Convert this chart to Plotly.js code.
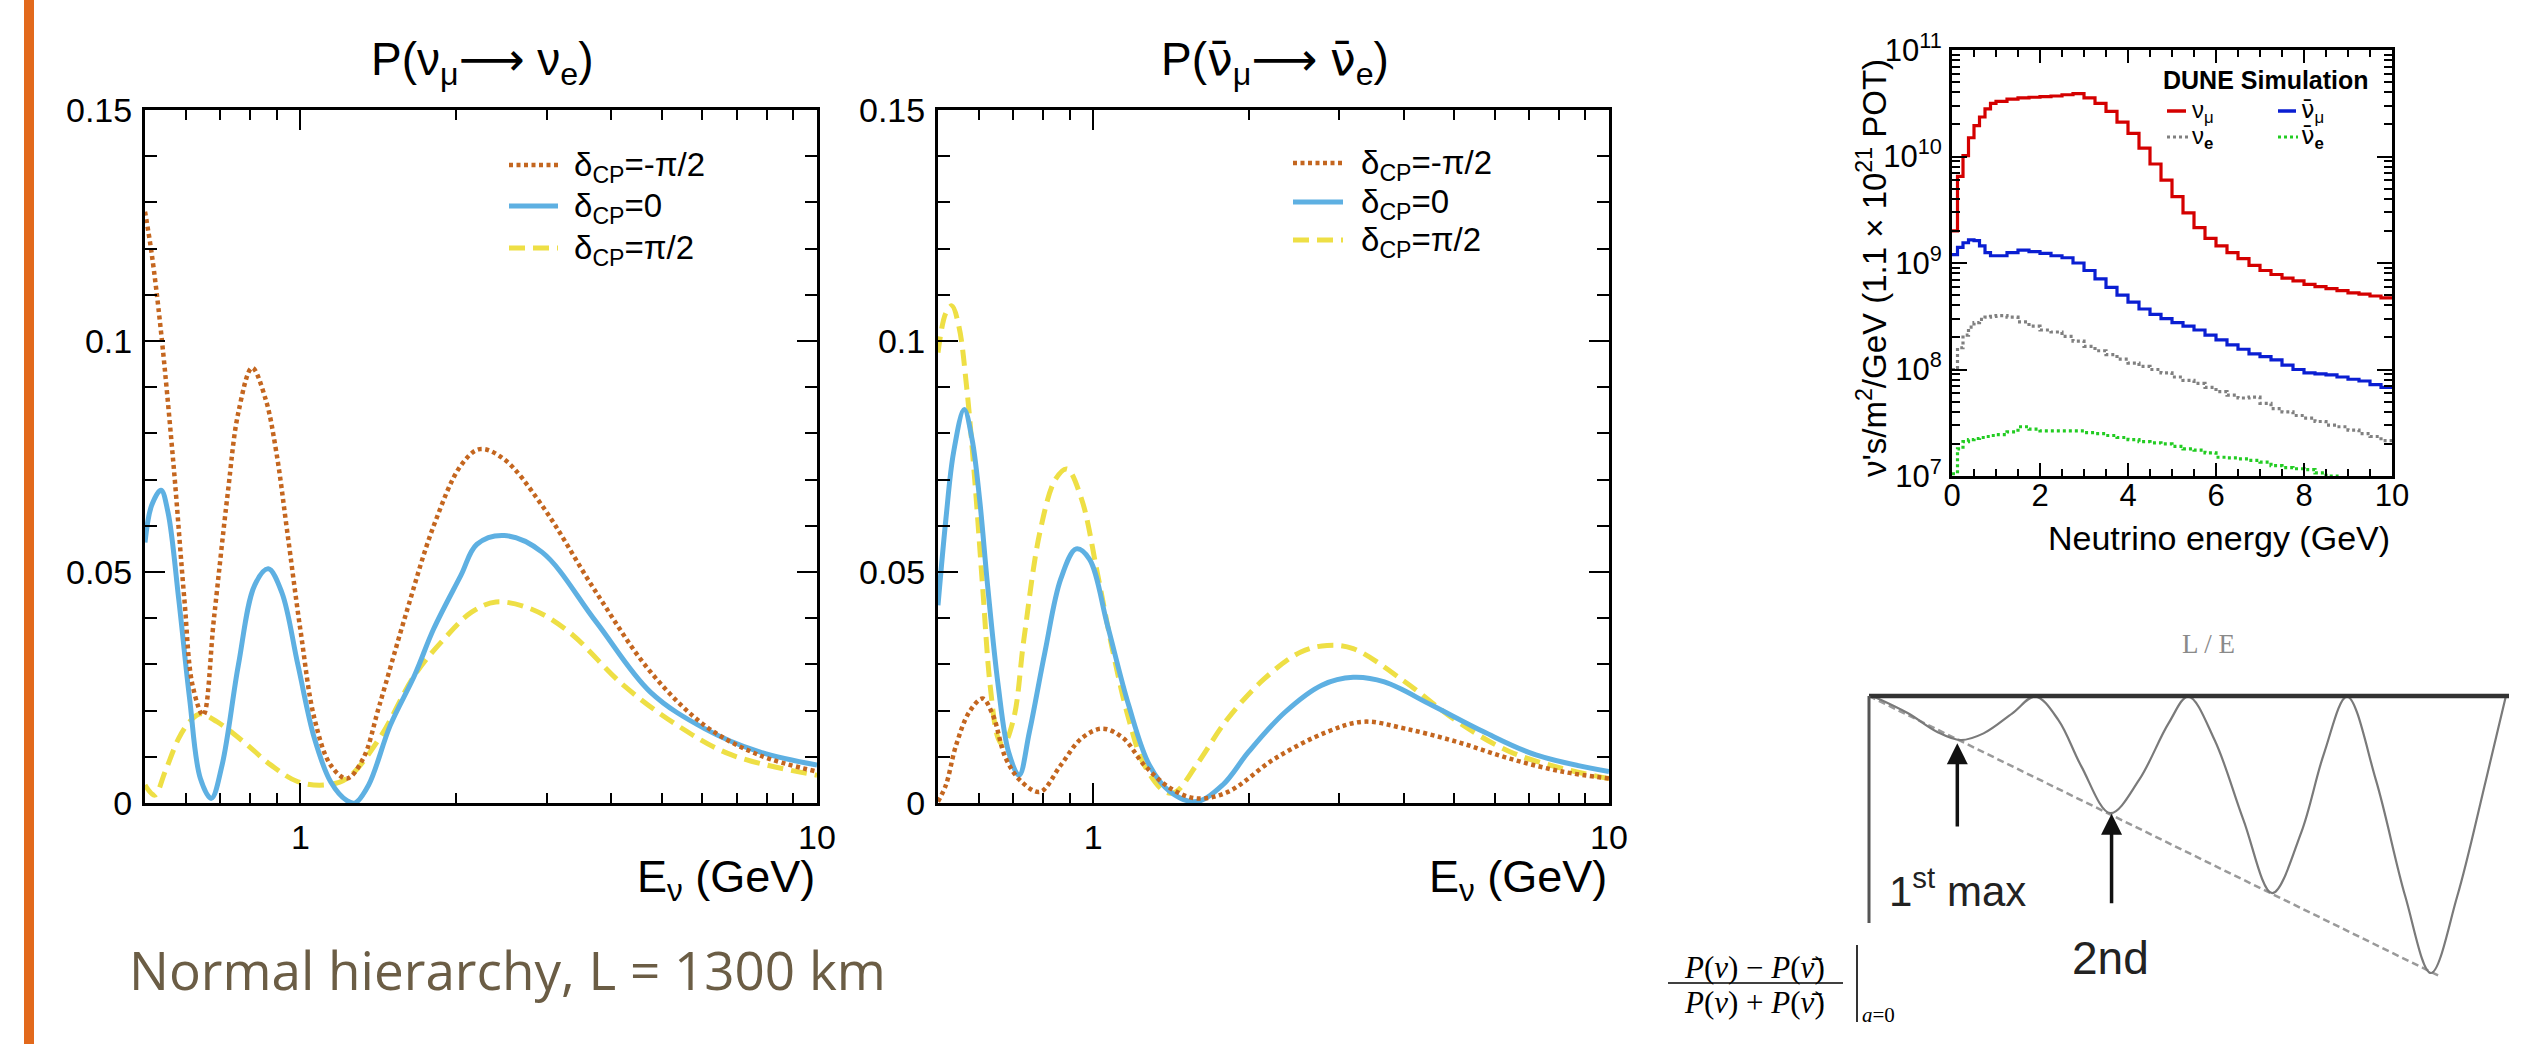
<!DOCTYPE html>
<html><head><meta charset="utf-8">
<script src="https://cdn.plot.ly/plotly-3.0.1.min.js"></script>
<style>html,body{margin:0;padding:0;background:#fff;} #chart{width:2525px;height:1044px;}</style>
</head><body><div id="chart"></div>
<script>
// ---------- P(nu_mu -> nu_e), normal hierarchy, L = 1300 km ----------
const nuE_minus = [0.50,0.515,0.537,0.568,0.596,0.618,0.648,0.680,0.723,0.758,0.806,0.856,0.898,0.943,1.001,1.064,1.144,1.230,1.322,1.422,1.604,1.811,2.043,2.223,2.479,2.935,3.736,4.759,6.058,7.716,10];
const nuP_minus = [0.128,0.119,0.102,0.073,0.044,0.0255,0.019,0.040,0.067,0.0845,0.0942,0.0874,0.0759,0.0586,0.037,0.0183,0.0082,0.0053,0.0096,0.0212,0.0413,0.060,0.073,0.0766,0.0744,0.0644,0.0456,0.0284,0.0168,0.0104,0.0068];
const nuE_zero = [0.50,0.515,0.537,0.554,0.581,0.610,0.640,0.672,0.705,0.758,0.815,0.866,0.920,0.989,1.064,1.144,1.230,1.275,1.355,1.492,1.664,1.811,2.043,2.196,2.479,2.935,3.736,4.759,6.058,7.716,10];
const nuP_zero = [0.0564,0.0644,0.0677,0.0629,0.0442,0.0226,0.0053,0.0010,0.0082,0.0298,0.0471,0.0507,0.0456,0.0298,0.0140,0.0046,0.0005,0.0,0.0039,0.0168,0.0277,0.0377,0.0492,0.056,0.0579,0.0543,0.0392,0.0240,0.0161,0.0111,0.0082];
const nuE_plus = [0.50,0.522,0.547,0.581,0.610,0.640,0.689,0.777,0.877,0.989,1.117,1.230,1.422,1.664,1.900,2.144,2.390,2.797,3.312,4.218,5.369,6.836,10];
const nuP_plus = [0.0039,0.0017,0.0068,0.0140,0.0176,0.0193,0.0176,0.0132,0.0082,0.0046,0.0039,0.0053,0.0140,0.0277,0.0356,0.0413,0.0435,0.0420,0.0370,0.0255,0.0168,0.0104,0.0060];

// ---------- P(anti-nu_mu -> anti-nu_e) ----------
const anuE_minus = [0.5,0.518,0.542,0.575,0.610,0.639,0.677,0.726,0.788,0.865,0.949,1.042,1.144,1.256,1.411,1.585,1.824,2.249,2.840,3.344,4.026,5.086,6.424,8.107,10];
const anuP_minus = [0.0003,0.0039,0.0125,0.0197,0.0226,0.0190,0.0096,0.0046,0.0024,0.0082,0.0140,0.0161,0.0140,0.0082,0.0032,0.0010,0.0024,0.0096,0.0154,0.0176,0.0161,0.0132,0.0096,0.0068,0.0053];
const anuE_zero = [0.5,0.518,0.536,0.562,0.582,0.602,0.624,0.654,0.685,0.718,0.752,0.806,0.865,0.927,0.983,1.066,1.171,1.285,1.411,1.585,1.782,2.002,2.356,2.774,3.191,3.669,4.527,5.715,7.217,10];
const anuP_zero = [0.0428,0.0615,0.0759,0.0852,0.0788,0.0658,0.0470,0.0255,0.0111,0.0060,0.0154,0.0327,0.0485,0.0550,0.0528,0.0384,0.0212,0.0082,0.0024,0.0003,0.0039,0.0111,0.0197,0.0255,0.0272,0.0262,0.0212,0.0154,0.0104,0.0068];
const anuE_plus = [0.5,0.518,0.532,0.549,0.568,0.589,0.610,0.631,0.654,0.669,0.701,0.734,0.788,0.845,0.889,0.949,1.018,1.092,1.171,1.256,1.379,1.444,1.585,1.824,2.147,2.527,2.840,3.191,4.026,5.086,6.424,8.107,10];
const anuP_plus = [0.0975,0.1061,0.1076,0.1031,0.0902,0.0701,0.0470,0.0255,0.0140,0.0125,0.0183,0.0356,0.0586,0.0701,0.0723,0.0658,0.0499,0.0327,0.0183,0.0082,0.0024,0.0024,0.0082,0.0183,0.0269,0.0327,0.0341,0.0334,0.0262,0.0176,0.0111,0.0075,0.0053];

const probLegend = ['δ<sub>CP</sub>=-π/2','δ<sub>CP</sub>=0','δ<sub>CP</sub>=π/2'];
const probXTicks = [1,10];
const probXTickText = ['1','10'];
const probYTicks = [0,0.05,0.1,0.15];
const probYTickText = ['0','0.05','0.1','0.15'];

// ---------- DUNE flux (bin low edges, GeV) ----------
const fluxEdges = [0,0.125,0.25,0.375,0.5,0.625,0.75,0.875,1,1.25,1.5,1.75,2,2.25,2.5,2.75,3,3.25,3.5,3.75,4,4.25,4.5,4.75,5,5.25,5.5,5.75,6,6.25,6.5,6.75,7,7.25,7.5,7.75,8,8.25,8.5,8.75,9,9.25,9.5,9.75];
const fluxNumu = [2.0e9,6.5e9,1.02e10,1.5e10,1.95e10,2.35e10,2.8e10,3.15e10,3.3e10,3.45e10,3.55e10,3.6e10,3.65e10,3.7e10,3.8e10,3.9e10,3.55e10,3.15e10,2.65e10,2.1e10,1.65e10,1.2e10,8.5e9,6.0e9,4.2e9,2.95e9,2.15e9,1.7e9,1.45e9,1.25e9,1.1e9,9.5e8,8.5e8,7.8e8,7.2e8,6.8e8,6.3e8,6.0e8,5.75e8,5.5e8,5.25e8,5.1e8,4.9e8,4.7e8];
const fluxNumubar = [1.2e9,1.4e9,1.55e9,1.65e9,1.62e9,1.45e9,1.25e9,1.17e9,1.17e9,1.25e9,1.32e9,1.28e9,1.23e9,1.17e9,1.12e9,1.0e9,8.5e8,7.1e8,5.9e8,5.0e8,4.3e8,3.7e8,3.3e8,3.0e8,2.75e8,2.55e8,2.35e8,2.1e8,1.9e8,1.7e8,1.55e8,1.4e8,1.32e8,1.23e8,1.1e8,1.0e8,9.3e7,9.1e7,8.9e7,8.5e7,8.1e7,7.8e7,7.2e7,6.8e7];
const fluxNue = [1.0e8,1.6e8,2.1e8,2.5e8,2.75e8,2.95e8,3.1e8,3.15e8,3.2e8,3.1e8,2.8e8,2.55e8,2.35e8,2.25e8,2.05e8,1.85e8,1.65e8,1.5e8,1.38e8,1.25e8,1.15e8,1.07e8,1.0e8,9.3e7,8.5e7,7.9e7,7.4e7,6.8e7,6.2e7,5.75e7,5.4e7,5.5e7,4.8e7,4.3e7,4.0e7,3.7e7,3.5e7,3.25e7,3.0e7,2.9e7,2.7e7,2.5e7,2.35e7,2.15e7];
const fluxNuebar = [1.05e7,1.8e7,2.1e7,2.2e7,2.25e7,2.3e7,2.35e7,2.4e7,2.45e7,2.6e7,2.9e7,2.75e7,2.65e7,2.65e7,2.65e7,2.65e7,2.55e7,2.5e7,2.4e7,2.3e7,2.2e7,2.1e7,2.05e7,2.0e7,1.9e7,1.8e7,1.75e7,1.65e7,1.5e7,1.48e7,1.45e7,1.4e7,1.35e7,1.25e7,1.2e7,1.17e7,1.15e7,1.07e7,1.0e7,9.3e6,9.0e6,8.5e6,8.0e6,7.6e6];
const fluxEmax = 10;
const fluxXTicks = [0,2,4,6,8,10];
const fluxYTicks = [1e7,1e8,1e9,1e10,1e11];
const fluxYTickText = ['10<sup>7</sup>','10<sup>8</sup>','10<sup>9</sup>','10<sup>10</sup>','10<sup>11</sup>'];

// ---------- L/E sketch (arbitrary units, depth drawn downward) ----------
const sketchU = [0.007,0.061,0.106,0.143,0.179,0.224,0.260,0.296,0.332,0.377,0.422,0.468,0.499,0.540,0.585,0.630,0.675,0.711,0.747,0.792,0.838,0.878,0.919,0.964,0.995];
const sketchV = [-0.002,-0.0625,-0.129,-0.159,-0.135,-0.0625,-0.002,-0.087,-0.255,-0.423,-0.303,-0.099,-0.002,-0.159,-0.447,-0.712,-0.495,-0.207,-0.002,-0.303,-0.724,-1.0,-0.724,-0.303,-0.002];
const diagU = [0, 0.892];
const diagV = [0, -1.012];

// ---------- layout helpers ----------
const W = 2525, H = 1044;
const px = x => x / W;
const py = y => 1 - y / H;
const dx = (a, b) => [a / W, b / W];
const dy = (top, bot) => [1 - bot / H, 1 - top / H];

const C_OR = '#C4661F', C_BL = '#5EB0E2', C_YE = '#EEDF45';
const DOT = '4px,3.5px', DASH = '16px,8px';
const SANS = 'Liberation Sans, Arial, sans-serif';
const NARROW = 'Liberation Sans Narrow, Arial Narrow, Liberation Sans, Arial, sans-serif';
const SERIF = 'Liberation Serif, Times New Roman, serif';
const NUBAR = '<span style="font-family:DejaVu Sans">ν̄</span>';
const ARROW = '<span style="font-family:DejaVu Sans">⟶</span>';

function line(x, y, xa, ya, color, width, dash, shape) {
  return {type: 'scatter', mode: 'lines', x: x, y: y, xaxis: xa, yaxis: ya,
    line: {color: color, width: width, dash: dash || 'solid', shape: shape || 'spline', smoothing: 1},
    hoverinfo: 'skip', showlegend: false};
}
function stepTrace(vals, color, dash) {
  return {type: 'scatter', mode: 'lines', x: fluxEdges.concat([fluxEmax]), y: vals.concat([vals[vals.length - 1]]),
    xaxis: 'x3', yaxis: 'y3', line: {color: color, width: 3.2, dash: dash || 'solid', shape: 'hv'},
    hoverinfo: 'skip', showlegend: false};
}

const traces = [
  line(nuE_plus, nuP_plus, 'x', 'y', C_YE, 5, DASH),
  line(nuE_zero, nuP_zero, 'x', 'y', C_BL, 5),
  line(nuE_minus, nuP_minus, 'x', 'y', C_OR, 4.5, DOT),
  line(anuE_plus, anuP_plus, 'x2', 'y2', C_YE, 5, DASH),
  line(anuE_zero, anuP_zero, 'x2', 'y2', C_BL, 5),
  line(anuE_minus, anuP_minus, 'x2', 'y2', C_OR, 4.5, DOT),
  stepTrace(fluxNuebar, '#22CC22', '3px,3px'),
  stepTrace(fluxNue, '#808080', '3px,3px'),
  stepTrace(fluxNumubar, '#0A1ED2'),
  stepTrace(fluxNumu, '#D40000'),
  line(diagU, diagV, 'x4', 'y4', '#9a9a9a', 2.5, '7px,4px', 'linear'),
  line(sketchU, sketchV, 'x4', 'y4', '#7a7a7a', 2.2, 'solid', 'spline')
];

function probX(domain, anchor) {
  return {domain: domain, anchor: anchor, type: 'log', range: [Math.log10(0.5), 1],
    tickmode: 'array', tickvals: probXTicks, ticktext: probXTickText,
    ticks: 'inside', ticklen: 20, tickwidth: 2, tickcolor: '#000',
    minor: {tickmode: 'array', tickvals: [0.6,0.7,0.8,0.9,2,3,4,5,6,7,8,9], ticks: 'inside', ticklen: 10, tickwidth: 2, tickcolor: '#000'},
    showline: true, linecolor: '#000', linewidth: 3, mirror: 'ticks',
    showgrid: false, zeroline: false, tickfont: {family: SANS, size: 34, color: '#000'},
    ticklabelstandoff: 2, fixedrange: true};
}
function probY(domain, anchor) {
  return {domain: domain, anchor: anchor, range: [0, 0.15],
    tickmode: 'array', tickvals: probYTicks, ticktext: probYTickText,
    ticks: 'inside', ticklen: 20, tickwidth: 2, tickcolor: '#000',
    minor: {tickmode: 'linear', tick0: 0, dtick: 0.01, ticks: 'inside', ticklen: 12, tickwidth: 2, tickcolor: '#000'},
    showline: true, linecolor: '#000', linewidth: 3, mirror: 'ticks',
    showgrid: false, zeroline: false, tickfont: {family: SANS, size: 34, color: '#000'},
    ticklabelstandoff: 3, fixedrange: true};
}
const fluxMinor = [];
for (let e = 7; e < 11; e++) for (let m = 2; m <= 9; m++) fluxMinor.push(m * Math.pow(10, e));

const legFont = {family: SANS, size: 33};
const layout = {
  width: W, height: H, margin: {l: 0, r: 0, t: 0, b: 0},
  paper_bgcolor: '#fff', plot_bgcolor: 'rgba(0,0,0,0)', showlegend: false,
  font: {family: SANS, color: '#000'},
  xaxis: probX(dx(145, 817), 'y'),
  yaxis: probY(dy(110, 803), 'x'),
  xaxis2: probX(dx(938, 1609), 'y2'),
  yaxis2: probY(dy(110, 803), 'x2'),
  xaxis3: {domain: dx(1952, 2392), anchor: 'y3', range: [0, 10], tickmode: 'array', tickvals: fluxXTicks,
    ticks: 'inside', ticklen: 13, tickwidth: 2, tickcolor: '#000',
    minor: {tickmode: 'linear', tick0: 0, dtick: 0.5, ticks: 'inside', ticklen: 7, tickwidth: 2, tickcolor: '#000'},
    showline: true, linecolor: '#000', linewidth: 3, mirror: 'ticks', showgrid: false, zeroline: false,
    tickfont: {family: NARROW, size: 31, color: '#000'}, ticklabelstandoff: -10, fixedrange: true},
  yaxis3: {domain: dy(50, 476), anchor: 'x3', type: 'log', range: [7, 11], tickmode: 'array',
    tickvals: fluxYTicks, ticktext: fluxYTickText,
    ticks: 'inside', ticklen: 15, tickwidth: 2, tickcolor: '#000',
    minor: {tickmode: 'array', tickvals: fluxMinor, ticks: 'inside', ticklen: 8, tickwidth: 2, tickcolor: '#000'},
    showline: true, linecolor: '#000', linewidth: 3, mirror: 'ticks', showgrid: false, zeroline: false,
    tickfont: {family: NARROW, size: 31, color: '#000'}, ticklabelstandoff: 1, fixedrange: true},
  xaxis4: {domain: dx(1869 - 12.8, 2509 + 12.8), anchor: 'y4', range: [-0.02, 1.02], visible: false, fixedrange: true},
  yaxis4: {domain: dy(696 - 11.1, 973 + 16.6), anchor: 'x4', range: [-1.06, 0.04], visible: false, fixedrange: true},
  shapes: [
    // orange slide bar
    {type: 'rect', xref: 'paper', yref: 'paper', x0: px(24), x1: px(34), y0: 0, y1: 1, fillcolor: '#E2691C', line: {width: 0}},
    // legend samples, left probability plot
    {type: 'line', xref: 'paper', yref: 'paper', x0: px(509), x1: px(558), y0: py(165), y1: py(165), line: {color: C_OR, width: 4.5, dash: DOT}},
    {type: 'line', xref: 'paper', yref: 'paper', x0: px(509), x1: px(558), y0: py(206), y1: py(206), line: {color: C_BL, width: 5}},
    {type: 'line', xref: 'paper', yref: 'paper', x0: px(509), x1: px(558), y0: py(248), y1: py(248), line: {color: C_YE, width: 5, dash: DASH}},
    // legend samples, middle probability plot
    {type: 'line', xref: 'paper', yref: 'paper', x0: px(1293), x1: px(1343), y0: py(163), y1: py(163), line: {color: C_OR, width: 4.5, dash: DOT}},
    {type: 'line', xref: 'paper', yref: 'paper', x0: px(1293), x1: px(1343), y0: py(202), y1: py(202), line: {color: C_BL, width: 5}},
    {type: 'line', xref: 'paper', yref: 'paper', x0: px(1293), x1: px(1343), y0: py(240), y1: py(240), line: {color: C_YE, width: 5, dash: DASH}},
    // flux legend samples
    {type: 'line', xref: 'paper', yref: 'paper', x0: px(2167), x1: px(2186), y0: py(111), y1: py(111), line: {color: '#D40000', width: 3.5}},
    {type: 'line', xref: 'paper', yref: 'paper', x0: px(2278), x1: px(2296), y0: py(111), y1: py(111), line: {color: '#0A1ED2', width: 3.5}},
    {type: 'line', xref: 'paper', yref: 'paper', x0: px(2167), x1: px(2188), y0: py(137), y1: py(137), line: {color: '#808080', width: 3, dash: '3px,3px'}},
    {type: 'line', xref: 'paper', yref: 'paper', x0: px(2278), x1: px(2298), y0: py(137), y1: py(137), line: {color: '#22CC22', width: 3, dash: '3px,3px'}},
    // sketch frame
    {type: 'line', xref: 'x4', yref: 'y4', x0: 0, x1: 1, y0: 0, y1: 0, line: {color: '#333', width: 4.5}},
    {type: 'line', xref: 'x4', yref: 'y4', x0: 0, x1: 0, y0: 0, y1: -0.82, line: {color: '#555', width: 3}},
    // formula: fraction bar and evaluation bar
    {type: 'line', xref: 'paper', yref: 'paper', x0: px(1668), x1: px(1843), y0: py(983), y1: py(983), line: {color: '#000', width: 1.6}},
    {type: 'line', xref: 'paper', yref: 'paper', x0: px(1857), x1: px(1857), y0: py(945), y1: py(1022), line: {color: '#000', width: 1.6}}
  ],
  annotations: [
    {xref: 'paper', yref: 'paper', x: px(482), y: py(62), text: 'P(ν<sub>μ</sub>' + ARROW + ' ν<sub>e</sub>)', showarrow: false, font: {family: SANS, size: 46}, xanchor: 'center', yanchor: 'middle'},
    {xref: 'paper', yref: 'paper', x: px(1275), y: py(62), text: 'P(' + NUBAR + '<sub>μ</sub>' + ARROW + ' ' + NUBAR + '<sub>e</sub>)', showarrow: false, font: {family: SANS, size: 46}, xanchor: 'center', yanchor: 'middle'},
    {xref: 'paper', yref: 'paper', x: px(817), y: py(879), text: 'E<sub>ν</sub> (GeV)', showarrow: false, font: {family: SANS, size: 45}, xanchor: 'right', yanchor: 'middle'},
    {xref: 'paper', yref: 'paper', x: px(1609), y: py(879), text: 'E<sub>ν</sub> (GeV)', showarrow: false, font: {family: SANS, size: 45}, xanchor: 'right', yanchor: 'middle'},
    {xref: 'paper', yref: 'paper', x: px(572), y: py(167), text: probLegend[0], showarrow: false, font: legFont, xanchor: 'left', yanchor: 'middle'},
    {xref: 'paper', yref: 'paper', x: px(572), y: py(208), text: probLegend[1], showarrow: false, font: legFont, xanchor: 'left', yanchor: 'middle'},
    {xref: 'paper', yref: 'paper', x: px(572), y: py(250), text: probLegend[2], showarrow: false, font: legFont, xanchor: 'left', yanchor: 'middle'},
    {xref: 'paper', yref: 'paper', x: px(1359), y: py(165), text: probLegend[0], showarrow: false, font: legFont, xanchor: 'left', yanchor: 'middle'},
    {xref: 'paper', yref: 'paper', x: px(1359), y: py(204), text: probLegend[1], showarrow: false, font: legFont, xanchor: 'left', yanchor: 'middle'},
    {xref: 'paper', yref: 'paper', x: px(1359), y: py(242), text: probLegend[2], showarrow: false, font: legFont, xanchor: 'left', yanchor: 'middle'},
    {xref: 'paper', yref: 'paper', x: px(127), y: py(969), text: 'Normal hierarchy, L = 1300 km', showarrow: false, font: {family: 'Open Sans, Noto Sans, sans-serif', size: 53, color: '#6B5D45'}, xanchor: 'left', yanchor: 'middle'},
    // flux panel texts
    {xref: 'paper', yref: 'paper', x: px(2266), y: py(80), text: '<b>DUNE Simulation</b>', showarrow: false, font: {family: NARROW, size: 25}, xanchor: 'center', yanchor: 'middle'},
    {xref: 'paper', yref: 'paper', x: px(2190), y: py(111), text: 'ν<sub>μ</sub>', showarrow: false, font: {family: SANS, size: 24}, xanchor: 'left', yanchor: 'middle'},
    {xref: 'paper', yref: 'paper', x: px(2299), y: py(111), text: NUBAR + '<sub>μ</sub>', showarrow: false, font: {family: SANS, size: 24}, xanchor: 'left', yanchor: 'middle'},
    {xref: 'paper', yref: 'paper', x: px(2190), y: py(137), text: 'ν<sub><b>e</b></sub>', showarrow: false, font: {family: SANS, size: 24}, xanchor: 'left', yanchor: 'middle'},
    {xref: 'paper', yref: 'paper', x: px(2299), y: py(137), text: NUBAR + '<sub><b>e</b></sub>', showarrow: false, font: {family: SANS, size: 24}, xanchor: 'left', yanchor: 'middle'},
    {xref: 'paper', yref: 'paper', x: px(2392), y: py(538), text: 'Neutrino energy (GeV)', showarrow: false, font: {family: NARROW, size: 34}, xanchor: 'right', yanchor: 'middle'},
    {xref: 'paper', yref: 'paper', x: px(1872), y: py(268), text: 'ν\'s/m<sup>2</sup>/GeV (1.1 × 10<sup>21</sup> POT)', showarrow: false, textangle: -90, font: {family: NARROW, size: 33}, xanchor: 'center', yanchor: 'middle'},
    // sketch texts and arrows
    {xref: 'paper', yref: 'paper', x: px(2208), y: py(644), text: 'L / E', showarrow: false, font: {family: SERIF, size: 27, color: '#8a8a8a'}, xanchor: 'center', yanchor: 'middle'},
    {xref: 'x4', yref: 'y4', x: 0.138, y: -0.171, ax: 0.138, ay: -0.477, axref: 'x4', ayref: 'y4', showarrow: true, arrowhead: 2, arrowsize: 1.2, arrowwidth: 3.5, arrowcolor: '#111', text: ''},
    {xref: 'x4', yref: 'y4', x: 0.379, y: -0.425, ax: 0.379, ay: -0.754, axref: 'x4', ayref: 'y4', showarrow: true, arrowhead: 2, arrowsize: 1.2, arrowwidth: 3.5, arrowcolor: '#111', text: ''},
    {xref: 'x4', yref: 'y4', x: 0.138, y: -0.693, text: '1<sup>st</sup> max', showarrow: false, font: {family: NARROW, size: 42, color: '#222'}, xanchor: 'center', yanchor: 'middle'},
    {xref: 'x4', yref: 'y4', x: 0.377, y: -0.946, text: '2nd', showarrow: false, font: {family: NARROW, size: 46, color: '#222'}, xanchor: 'center', yanchor: 'middle'},
    // formula
    {xref: 'paper', yref: 'paper', x: px(1755), y: py(967), text: '<i>P</i>(<i>ν</i>) − <i>P</i>(<i>ν̄</i>)', showarrow: false, font: {family: SERIF, size: 31}, xanchor: 'center', yanchor: 'middle'},
    {xref: 'paper', yref: 'paper', x: px(1755), y: py(1002), text: '<i>P</i>(<i>ν</i>) + <i>P</i>(<i>ν̄</i>)', showarrow: false, font: {family: SERIF, size: 31}, xanchor: 'center', yanchor: 'middle'},
    {xref: 'paper', yref: 'paper', x: px(1860), y: py(1015), text: '<i>a</i>=0', showarrow: false, font: {family: SERIF, size: 21}, xanchor: 'left', yanchor: 'middle'}
  ]
};

Plotly.newPlot('chart', traces, layout, {displayModeBar: false, staticPlot: true});
</script></body></html>
